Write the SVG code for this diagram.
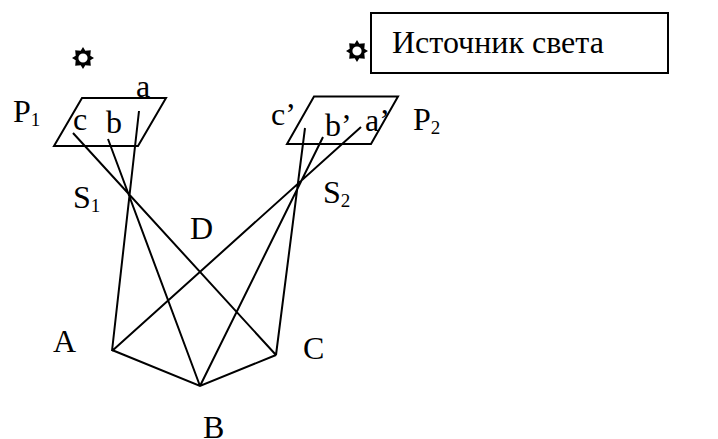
<svg xmlns="http://www.w3.org/2000/svg" width="718" height="439" viewBox="0 0 718 439">
<style>
.l{stroke:#000;stroke-width:2;fill:none}
text{font-family:"Liberation Serif",serif;font-size:32px;fill:#000}
.s{font-size:19px}
</style>
<defs>
<g id="sun"><path fill="#000" fill-rule="evenodd" d="M0-11L2.300-7.300L7.800-7.800L7.300-2.300L11 0L7.300 2.300L7.800 7.800L2.300 7.300L0 11L-2.300 7.300L-7.800 7.800L-7.300 2.300L-11 0L-7.300-2.300L-7.800-7.800L-2.300-7.300ZM0-4.600A4.600 4.600 0 1 0 0 4.600A4.600 4.600 0 1 0 0-4.600Z"/></g>
</defs>
<rect width="718" height="439" fill="#fff"/>
<g id="connectors">
<path class="l" d="M139 111L112 351M108 139L200 386M73 133L276 355M361 127L112 351M323 137L200 386M305 128L276 355M112 350L200 386L276 355"/>
</g>
<g id="plane1"><path class="l" d="M82 98H166L138 146H54Z"/></g>
<g id="plane2"><path class="l" d="M314 96.500H398L371 144H287Z"/></g>
<g id="sun1"><use href="#sun" x="83" y="58"/></g>
<g id="sun2"><use href="#sun" x="357" y="51"/></g>
<g id="legend"><rect class="l" x="371" y="13" width="297" height="60"/><text x="392" y="53">Источник света</text></g>
<g id="lP1"><text x="13" y="122">P<tspan class="s" dy="4">1</tspan></text></g>
<g id="lP2"><text x="413" y="130">P<tspan class="s" dy="4">2</tspan></text></g>
<g id="la"><text x="136" y="97">a</text></g>
<g id="lb"><text x="106" y="133">b</text></g>
<g id="lc"><text x="73" y="130">c</text></g>
<g id="lc2"><text x="271" y="125">c’</text></g>
<g id="lb2"><text x="325" y="136">b’</text></g>
<g id="la2"><text x="365" y="131">a’</text></g>
<g id="lS1"><text x="73" y="208">S<tspan class="s" dy="4">1</tspan></text></g>
<g id="lS2"><text x="323" y="203">S<tspan class="s" dy="4">2</tspan></text></g>
<g id="lD"><text x="190" y="239">D</text></g>
<g id="lA"><text x="53" y="352">A</text></g>
<g id="lB"><text x="203" y="438">B</text></g>
<g id="lC"><text x="303" y="359">C</text></g>
</svg>
